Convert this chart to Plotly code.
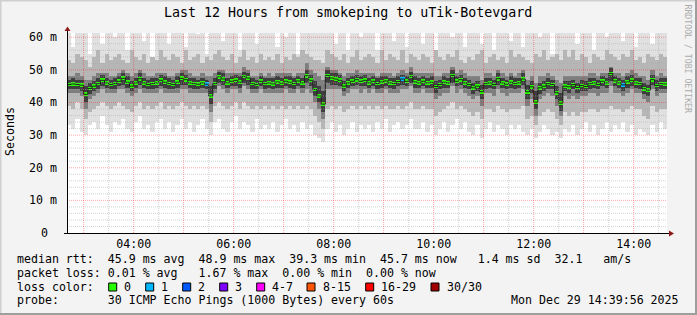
import plotly.graph_objects as go
from datetime import datetime, timedelta

# ---------------- data (5-minute columns, 02:40 .. 14:35) ----------------
start_time = "2025-12-29 02:40"
step_minutes = 5

median_ms = [
    45.5, 45.7, 45.5, 45.3, 42.5, 44.3, 45.0, 45.8, 46.8, 46.0, 45.5, 45.8,
    46.5, 47.4, 46.2, 45.0, 46.0, 47.3, 46.0, 45.5, 45.8, 46.0, 46.8, 46.2,
    45.8, 45.5, 46.2, 47.4, 47.0, 46.0, 45.8, 45.6, 46.0, 45.6, 42.0, 45.8,
    47.9, 47.2, 46.0, 46.5, 46.8, 46.2, 48.0, 47.5, 45.8, 45.5, 46.5, 45.8,
    46.0, 45.7, 46.3, 45.9, 46.5, 46.2, 45.8, 46.6, 46.0, 48.2, 46.8, 44.0,
    42.0, 39.5, 48.3, 47.5, 47.2, 46.8, 45.0, 46.0, 46.5, 47.0, 46.5, 46.8,
    46.0, 46.5, 45.8, 46.3, 46.6, 46.0, 45.8, 46.4, 47.2, 46.5, 48.0, 46.3,
    46.0, 46.5, 46.0, 46.2, 44.9, 45.5, 46.2, 46.0, 48.3, 46.5, 47.0, 46.0,
    45.5, 44.5, 45.0, 43.3, 45.8, 46.0, 45.5, 47.3, 46.0, 45.6, 46.2, 45.8,
    46.0, 47.2, 43.3, 44.8, 40.1, 44.5, 45.0, 45.8, 45.5, 43.0, 39.8, 45.0,
    44.8, 45.5, 44.6, 45.2, 44.9, 45.8, 46.0, 45.5, 46.5, 46.0, 48.9, 46.6,
    46.0, 45.4, 46.3, 46.8, 46.0, 45.8, 44.2, 43.8, 47.0, 45.2, 45.8, 45.7,
]

lost_pings = [
    0, 0, 0, 0, 0, 0, 0, 0, 0, 0, 0, 0,
    0, 0, 0, 0, 0, 0, 0, 0, 0, 0, 0, 0,
    0, 0, 0, 0, 0, 0, 0, 0, 0, 1, 0, 0,
    0, 0, 0, 0, 0, 0, 0, 0, 0, 0, 0, 0,
    0, 0, 0, 0, 0, 0, 0, 0, 0, 0, 0, 0,
    0, 0, 0, 0, 0, 0, 0, 0, 0, 0, 0, 0,
    0, 0, 0, 0, 0, 0, 0, 0, 1, 0, 0, 0,
    0, 0, 0, 0, 0, 0, 0, 0, 0, 0, 0, 0,
    0, 0, 0, 0, 0, 0, 0, 0, 0, 0, 0, 0,
    0, 0, 0, 0, 0, 0, 0, 0, 0, 0, 0, 0,
    0, 0, 0, 0, 0, 0, 0, 0, 0, 0, 0, 0,
    0, 1, 0, 0, 0, 0, 0, 0, 0, 0, 0, 0,
]

smoke_max = [
    62, 57, 62, 62, 62, 55, 62, 62, 58, 62, 62, 60,
    62, 62, 56, 62, 62, 62, 59, 62, 54, 62, 62, 62,
    58, 62, 62, 62, 57, 62, 62, 61, 62, 55, 62, 62,
    62, 59, 62, 62, 62, 56, 62, 62, 62, 58, 62, 62,
    62, 62, 57, 62, 60, 62, 62, 55, 62, 62, 62, 62,
    62, 62, 62, 62, 58, 62, 62, 56, 62, 62, 60, 62,
    62, 62, 56, 62, 62, 62, 59, 62, 62, 57, 62, 62,
    62, 58, 62, 62, 55, 62, 62, 62, 60, 62, 62, 57,
    62, 62, 62, 58, 62, 62, 56, 62, 62, 62, 59, 62,
    62, 57, 62, 62, 62, 60, 62, 62, 55, 62, 62, 62,
    62, 62, 58, 62, 62, 62, 56, 62, 62, 60, 62, 62,
    62, 59, 62, 62, 57, 62, 62, 62, 58, 62, 62, 62,
]

smoke_p90 = [
    53, 52, 55, 54, 53, 51, 54, 56, 52, 55, 53, 54,
    55, 53, 52, 56, 54, 53, 55, 52, 54, 53, 56, 54,
    53, 55, 54, 52, 56, 53, 54, 55, 52, 54, 53, 55,
    56, 54, 53, 55, 52, 54, 56, 53, 54, 52, 55, 53,
    54, 53, 55, 52, 54, 53, 55, 54, 56, 55, 54, 53,
    53, 52, 56, 55, 54, 53, 55, 52, 54, 56, 53, 54,
    55, 54, 52, 56, 53, 55, 54, 53, 56, 52, 55, 54,
    53, 55, 54, 52, 56, 54, 53, 55, 54, 56, 53, 52,
    54, 53, 55, 56, 52, 54, 55, 53, 54, 52, 56, 54,
    55, 54, 53, 52, 55, 54, 56, 53, 54, 55, 53, 56,
    54, 56, 53, 55, 54, 52, 55, 54, 53, 56, 55, 54,
    53, 55, 54, 56, 53, 54, 52, 55, 54, 53, 55, 54,
]

smoke_p75 = [
    48, 48, 49, 48, 47, 47, 48, 49, 49, 49, 48, 48,
    49, 50, 49, 48, 49, 50, 49, 48, 48, 49, 49, 49,
    48, 48, 49, 50, 50, 49, 48, 48, 49, 48, 48, 49,
    50, 50, 49, 49, 49, 49, 51, 50, 48, 48, 49, 48,
    49, 48, 49, 49, 49, 49, 48, 49, 49, 52, 50, 49,
    48, 47, 51, 50, 50, 49, 48, 49, 49, 50, 49, 49,
    49, 49, 48, 49, 49, 49, 48, 49, 50, 49, 51, 49,
    49, 49, 49, 49, 48, 48, 49, 49, 51, 49, 50, 49,
    48, 48, 48, 47, 49, 49, 48, 50, 49, 48, 49, 48,
    49, 50, 47, 48, 46, 48, 48, 49, 48, 47, 46, 48,
    48, 48, 48, 48, 48, 49, 49, 48, 49, 49, 51, 49,
    49, 48, 49, 50, 49, 48, 48, 47, 50, 48, 49, 48,
]

smoke_p60 = [
    47, 47.5, 47, 47, 45, 46, 46.5, 47.5, 48.5, 47.5, 47, 47.5,
    48, 49, 48, 46.5, 47.5, 49, 47.5, 47, 47.5, 47.5, 48.5, 48,
    47.5, 47, 48, 49, 48.5, 47.5, 47.5, 47, 47.5, 47, 45, 47.5,
    49.5, 49, 47.5, 48, 48.5, 48, 49.5, 49, 47.5, 47, 48, 47.5,
    47.5, 47.5, 48, 47.5, 48, 48, 47.5, 48, 47.5, 50, 48.5, 46.5,
    45, 43.5, 50, 49, 49, 48.5, 46.5, 47.5, 48, 48.5, 48, 48.5,
    47.5, 48, 47.5, 48, 48, 47.5, 47.5, 48, 48.5, 48, 49.5, 48,
    47.5, 48, 47.5, 48, 46.5, 47, 48, 47.5, 50, 48, 48.5, 47.5,
    47, 46, 46.5, 45.5, 47.5, 47.5, 47, 49, 47.5, 47, 48, 47.5,
    47.5, 49, 45.5, 46.5, 43.5, 46, 46.5, 47.5, 47, 45, 43, 46.5,
    46.5, 47, 46, 47, 46.5, 47.5, 47.5, 47, 48, 47.5, 50.5, 48,
    47.5, 47, 48, 48.5, 47.5, 47.5, 46, 45.5, 48.5, 47, 47.5, 47.5,
]

smoke_p40 = [
    44, 44, 44, 43.5, 40, 42.5, 43.5, 44, 45, 44.5, 44, 44,
    45, 45.5, 44.5, 43.5, 44.5, 45.5, 44.5, 44, 44, 44.5, 45, 44.5,
    44, 44, 44.5, 45.5, 45.5, 44.5, 44, 44, 44.5, 44, 39.5, 44,
    46, 45.5, 44.5, 45, 45, 44.5, 46, 45.5, 44, 44, 45, 44,
    44.5, 44, 44.5, 44.5, 45, 44.5, 44, 45, 44.5, 46, 45, 42,
    40, 37, 46, 45.5, 45.5, 45, 43.5, 44.5, 45, 45.5, 45, 45,
    44.5, 45, 44, 44.5, 45, 44.5, 44, 45, 45.5, 45, 46, 44.5,
    44.5, 45, 44.5, 44.5, 43, 44, 44.5, 44.5, 46, 45, 45.5, 44.5,
    44, 42.5, 43.5, 41, 44, 44.5, 44, 45.5, 44.5, 44, 44.5, 44,
    44.5, 45.5, 41, 43, 38, 42.5, 43.5, 44, 44, 41, 37.5, 43.5,
    43, 44, 43, 43.5, 43.5, 44, 44.5, 44, 45, 44.5, 46.5, 45,
    44.5, 43.5, 44.5, 45, 44.5, 44, 42.5, 42, 45.5, 43.5, 44, 44,
]

smoke_p25 = [
    43, 43, 43, 42, 38, 41, 42, 43, 44, 43, 43, 43,
    44, 44, 43, 42, 43, 44, 43, 43, 43, 43, 44, 43,
    43, 43, 43, 44, 44, 43, 43, 43, 43, 43, 37, 43,
    45, 44, 43, 44, 44, 43, 45, 44, 43, 43, 44, 43,
    43, 43, 43, 43, 44, 43, 43, 44, 43, 44, 43, 40,
    38, 35, 44, 44, 44, 44, 42, 43, 44, 44, 43, 44,
    43, 44, 43, 43, 44, 43, 43, 43, 44, 44, 45, 43,
    43, 44, 43, 43, 41, 42, 43, 43, 45, 43, 44, 43,
    42, 41, 42, 39, 43, 43, 42, 44, 43, 42, 43, 43,
    43, 44, 39, 41, 36, 41, 42, 43, 42, 39, 36, 42,
    41, 42, 41, 42, 42, 43, 43, 42, 43, 43, 45, 43,
    43, 42, 43, 44, 43, 43, 41, 40, 44, 42, 43, 43,
]

smoke_p10 = [
    39, 38, 40, 38, 35, 37, 38, 39, 40, 39, 38, 39,
    40, 39, 38, 37, 39, 40, 38, 39, 38, 39, 40, 38,
    39, 38, 39, 40, 39, 38, 39, 38, 39, 38, 34, 39,
    40, 39, 38, 39, 40, 38, 40, 39, 38, 39, 38, 39,
    38, 39, 38, 39, 38, 39, 38, 39, 38, 39, 38, 36,
    34, 32, 38, 39, 38, 39, 37, 38, 39, 38, 39, 38,
    39, 38, 39, 38, 39, 38, 38, 39, 38, 39, 40, 38,
    38, 39, 38, 38, 36, 37, 38, 39, 40, 38, 39, 38,
    37, 36, 37, 35, 38, 38, 37, 39, 38, 37, 38, 38,
    38, 39, 35, 36, 33, 36, 37, 38, 37, 35, 33, 37,
    36, 37, 36, 37, 37, 38, 38, 37, 38, 38, 39, 38,
    38, 37, 38, 39, 38, 38, 36, 35, 39, 37, 38, 38,
]

smoke_min = [
    33, 32, 35, 31, 30, 33, 34, 32, 36, 33, 31, 34,
    33, 35, 32, 31, 34, 36, 32, 33, 31, 34, 35, 32,
    34, 31, 33, 35, 32, 34, 31, 33, 35, 32, 30, 34,
    35, 32, 31, 34, 36, 32, 34, 33, 31, 35, 32, 33,
    32, 34, 31, 33, 35, 32, 33, 31, 34, 32, 33, 30,
    29, 28, 32, 34, 31, 33, 30, 32, 34, 31, 33, 32,
    33, 31, 34, 32, 35, 31, 33, 34, 32, 33, 35, 32,
    32, 34, 31, 33, 30, 32, 34, 31, 33, 35, 32, 34,
    31, 30, 33, 29, 32, 34, 31, 33, 32, 30, 33, 32,
    33, 31, 30, 32, 29, 31, 33, 32, 30, 31, 29, 32,
    31, 33, 30, 32, 34, 31, 33, 30, 32, 34, 31, 33,
    32, 34, 31, 33, 30, 32, 31, 30, 33, 31, 34, 32,
]

x_tick_hours = ["04:00", "06:00", "08:00", "10:00", "12:00", "14:00"]
y_tick_values = [0, 10, 20, 30, 40, 50, 60]
y_tick_labels = ["0", "10 m", "20 m", "30 m", "40 m", "50 m", "60 m"]

loss_legend_labels = ["0", "1", "2", "3", "4-7", "8-15", "16-29", "30/30"]
loss_legend_colors = ["#26ff00", "#00b8ff", "#0059ff", "#7e00ff",
                      "#ff00ff", "#ff5500", "#ff0000", "#a00000"]

title_text = "Last 12 Hours from smokeping to uTik-Botevgard"
stat_lines = [
    "median rtt:  45.9 ms avg  48.9 ms max  39.3 ms min  45.7 ms now   1.4 ms sd  32.1   am/s",
    "packet loss: 0.01 % avg   1.67 % max  0.00 % min  0.00 % now",
]
probe_text = "probe:       30 ICMP Echo Pings (1000 Bytes) every 60s"
stamp_text = "Mon Dec 29 14:39:56 2025"

# ---------------- geometry ----------------
W, H = 697, 315
PL, PR, PT, PB = 67, 667, 33, 233  # plot area in px
Y_TOP = 61.3

def px(x):
    return (x - PL) / (PR - PL)

def py(y):
    return (PB - y) / (PB - PT)

def nb(s):
    return s.replace(" ", "\u00a0")

t0 = datetime.strptime(start_time, "%Y-%m-%d %H:%M")
n = len(median_ms)
times = [t0 + timedelta(minutes=step_minutes * i) for i in range(n)]
t_end = t0 + timedelta(hours=12)
bar_w = step_minutes * 60 * 1000
day = t0.strftime("%Y-%m-%d")

fig = go.Figure()

def band(lo, hi, color):
    fig.add_trace(go.Bar(
        x=times, base=lo, y=[h - l for l, h in zip(lo, hi)],
        width=bar_w, offset=0,
        marker=dict(color=color, line=dict(width=0)),
        hoverinfo="skip"))

band(smoke_min, smoke_max, "#e0e0e0")
band(smoke_p10, smoke_p90, "#b6b6b6")
band(smoke_p25, smoke_p75, "#7e7e7e")
band(smoke_p40, smoke_p60, "#3e3e3e")

# dark median line
fig.add_trace(go.Scatter(
    x=times + [t_end], y=median_ms + [median_ms[-1]],
    mode="lines", line=dict(color="#202020", width=1, shape="hv"),
    hoverinfo="skip"))

# loss-coloured median blocks
loss_color_of = {0: loss_legend_colors[0], 1: loss_legend_colors[1],
                 2: loss_legend_colors[2], 3: loss_legend_colors[3]}
block = 1.15
fig.add_trace(go.Bar(
    x=times, base=[m - block / 2 for m in median_ms], y=[block] * n,
    width=bar_w, offset=0,
    marker=dict(color=[loss_color_of.get(l, "#ff00ff") for l in lost_pings],
                line=dict(width=0)),
    hoverinfo="skip"))

shapes = []
# grid (drawn above data, like rrdtool)
minor_col = "rgba(170,170,170,0.5)"
major_col = "rgba(255,0,0,0.35)"
for v in range(2, 61, 2):
    if v % 10 == 0:
        continue
    shapes.append(dict(type="line", xref="x", yref="y", x0=t0, x1=t_end, y0=v, y1=v,
                       line=dict(color=minor_col, width=1, dash="1px,1px"), layer="above"))
for v in range(10, 61, 10):
    shapes.append(dict(type="line", xref="x", yref="y", x0=t0, x1=t_end, y0=v, y1=v,
                       line=dict(color=major_col, width=1, dash="1px,1px"), layer="above"))
for h in range(3, 15):
    tm = datetime(t0.year, t0.month, t0.day, h, 30)
    shapes.append(dict(type="line", xref="x", yref="y", x0=tm, x1=tm, y0=0, y1=Y_TOP,
                       line=dict(color=minor_col, width=1, dash="1px,1px"), layer="above"))
for h in range(3, 15):
    tm = datetime(t0.year, t0.month, t0.day, h, 0)
    shapes.append(dict(type="line", xref="x", yref="y", x0=tm, x1=tm, y0=0, y1=Y_TOP,
                       line=dict(color=major_col, width=1, dash="1px,1px"), layer="above"))

# axes with arrows
shapes.append(dict(type="line", xref="paper", yref="paper", x0=px(67.5), x1=px(67.5),
                   y0=py(233), y1=py(30), line=dict(color="#000000", width=1), layer="above"))
shapes.append(dict(type="line", xref="paper", yref="paper", x0=px(64), x1=px(669),
                   y0=py(233.5), y1=py(233.5), line=dict(color="#000000", width=1), layer="above"))
shapes.append(dict(type="path", xref="paper", yref="paper",
                   path=f"M {px(64.5)} {py(31)} L {px(70.5)} {py(31)} L {px(67.5)} {py(26.5)} Z",
                   fillcolor="#8b1a1a", line=dict(width=0), layer="above"))
shapes.append(dict(type="path", xref="paper", yref="paper",
                   path=f"M {px(669)} {py(230.5)} L {px(669)} {py(236.5)} L {px(674)} {py(233.5)} Z",
                   fillcolor="#8b1a1a", line=dict(width=0), layer="above"))

# frame
shapes.append(dict(type="line", xref="paper", yref="paper", x0=px(0), x1=px(697),
                   y0=py(0.5), y1=py(0.5), line=dict(color="#cfcfcf", width=2), layer="above"))
shapes.append(dict(type="line", xref="paper", yref="paper", x0=px(0.5), x1=px(0.5),
                   y0=py(0), y1=py(315), line=dict(color="#cfcfcf", width=2), layer="above"))
shapes.append(dict(type="line", xref="paper", yref="paper", x0=px(0), x1=px(697),
                   y0=py(314), y1=py(314), line=dict(color="#9e9e9e", width=2), layer="above"))
shapes.append(dict(type="line", xref="paper", yref="paper", x0=px(696), x1=px(696),
                   y0=py(0), y1=py(315), line=dict(color="#9e9e9e", width=2), layer="above"))

# loss colour squares
sq_left = [108.7, 145.7, 182.7, 219.7, 256.7, 307.0, 365.7, 431.0]
lab_left = [123, 160, 197, 234, 271, 322, 380, 445.7]
for xl, c in zip(sq_left, loss_legend_colors):
    shapes.append(dict(type="rect", xref="paper", yref="paper",
                       x0=px(xl), x1=px(xl + 8), y0=py(283), y1=py(291),
                       fillcolor=c, line=dict(color="#000000", width=1), layer="above"))

FONT = "DejaVu Sans Mono"
FS = 11.6
ann = []

def text(x, y, s, anchor="left", size=FS, color="#000000", angle=0):
    ann.append(dict(xref="paper", yref="paper", x=px(x), y=py(y), text=nb(s),
                    showarrow=False, xanchor=anchor, yanchor="middle", textangle=angle,
                    font=dict(family=FONT, size=size, color=color), borderpad=0))

text(348, 13, title_text, anchor="center", size=13.3)
text(10, 132, "Seconds", anchor="center", angle=-90)
text(687.5, 59, "RRDTOOL / TOBI OETIKER", anchor="center", size=8.2, color="#ababab", angle=90)
for v, lab in zip(y_tick_values, y_tick_labels):
    if lab == "0":
        text(44.7, PB - v * (PB - PT) / Y_TOP, lab, anchor="center")
    else:
        text(58, PB - v * (PB - PT) / Y_TOP, lab, anchor="right")
text(16, 259.3, stat_lines[0])
text(16, 272.7, stat_lines[1])
text(16, 286.7, "loss color:")
for xl, lab in zip(lab_left, loss_legend_labels):
    text(xl, 286.7, lab)
text(16, 300.3, probe_text)
text(680, 300.3, stamp_text, anchor="right")

fig.update_layout(
    width=W, height=H,
    margin=dict(l=PL, r=W - PR, t=PT, b=H - PB),
    paper_bgcolor="#f3f3f3", plot_bgcolor="#ffffff",
    barmode="overlay", bargap=0, showlegend=False,
    font=dict(family=FONT, size=FS, color="#000000"),
    shapes=shapes, annotations=ann,
)
fig.update_xaxes(
    type="date", range=[t0, t_end], showgrid=False, zeroline=False, showline=False,
    tickmode="array", tickvals=[f"{day} {h}" for h in x_tick_hours], ticktext=x_tick_hours,
    ticks="", ticklabelstandoff=2, tickfont=dict(family=FONT, size=FS, color="#000000"),
)
fig.update_yaxes(range=[0, Y_TOP], showgrid=False, zeroline=False, showline=False,
                 showticklabels=False, ticks="")

fig.write_html("out.html")
